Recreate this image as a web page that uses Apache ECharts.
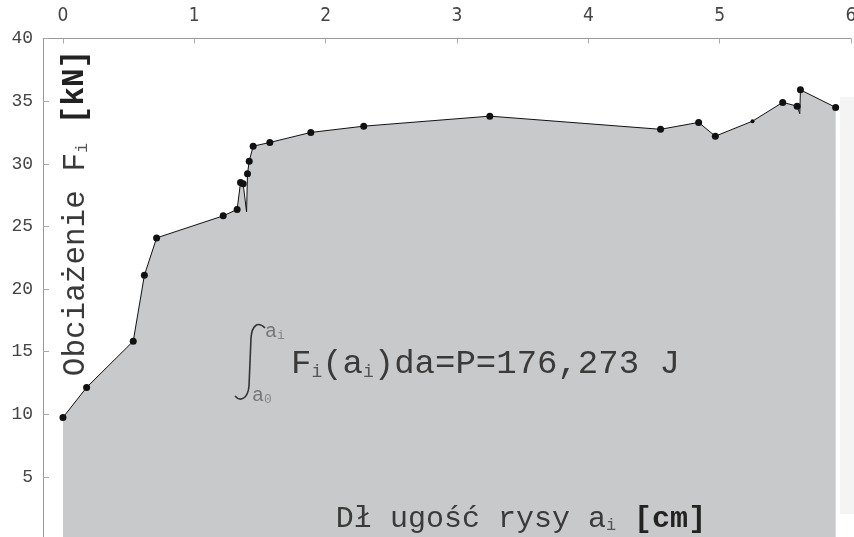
<!DOCTYPE html>
<html>
<head>
<meta charset="utf-8">
<script src="https://cdn.jsdelivr.net/npm/echarts@6/dist/echarts.min.js"></script>
<style>html,body{margin:0;padding:0;background:#fff}#c{width:854px;height:537px}</style>
</head>
<body>
<div id="c"></div>
<script>
// crack length a_i [cm]
const crackLength = [0, 0.18, 0.535, 0.62, 0.713, 1.22, 1.326, 1.352, 1.372, 1.398, 1.405, 1.418, 1.448, 1.575, 1.887, 2.29, 3.25, 4.55, 4.84, 4.967, 5.25, 5.48, 5.59, 5.61, 5.615, 5.883];
// load F_i [kN]
const loadValues = [9.74, 12.14, 15.83, 21.1, 24.08, 25.84, 26.35, 28.5, 28.4, 26.15, 29.2, 30.2, 31.4, 31.7, 32.5, 33.0, 33.8, 32.75, 33.3, 32.2, 33.4, 34.9, 34.6, 34.0, 35.9, 34.5];
// 1 = measured point drawn with a dot, 0 = plain vertex
const dotFlags = [1,1,1,1,1,1,1,1,1,0,1,1,1,1,1,1,1,1,1,1,1,1,1,0,1,1];
const xTickLabels = [0, 1, 2, 3, 4, 5, 6];
const yTickStep = 5;

const chart = echarts.init(document.getElementById('c'), null, {renderer: 'canvas'});
const data = crackLength.map((x, i) => [x, loadValues[i]]);
const mono = "'Liberation Mono', 'Courier New', monospace";

chart.setOption({
  backgroundColor: '#fff',
  animation: false,
  grid: {left: 43, top: 38.5, width: 808, height: 501, containLabel: false, outerBoundsMode: 'none'},
  xAxis: {
    type: 'value', position: 'top', min: -0.152, max: 6,
    axisLine: {show: true, onZero: false, lineStyle: {color: '#999', width: 1}},
    axisTick: {show: true, inside: true, length: 5, customValues: xTickLabels, lineStyle: {color: '#aaa'}},
    axisLabel: {customValues: xTickLabels, margin: 13, color: '#444', fontSize: 19,
      fontFamily: "'Liberation Sans Narrow', 'DejaVu Sans Condensed', sans-serif"},
    splitLine: {show: false}
  },
  yAxis: {
    type: 'value', min: 0, max: 40, interval: yTickStep,
    axisLine: {show: true, onZero: false, lineStyle: {color: '#999', width: 1}},
    axisTick: {show: true, inside: true, length: 6, lineStyle: {color: '#aaa'}},
    axisLabel: {showMinLabel: false, margin: 10, color: '#444', fontSize: 18, fontFamily: mono},
    splitLine: {show: false}
  },
  series: [{
    type: 'line',
    data: data,
    showSymbol: true,
    symbol: 'circle',
    symbolSize: (v, p) => dotFlags[p.dataIndex] ? (p.dataIndex === 20 ? 4 : 7) : 0,
    itemStyle: {color: '#111'},
    lineStyle: {color: '#111', width: 1},
    areaStyle: {color: '#c8c9cb', opacity: 1},
    z: 2
  }],
  graphic: [
    {type: 'rect', shape: {x: 840, y: 97, width: 14, height: 417}, style: {fill: '#f4f4f4'}, z: 1},
    {type: 'text', x: 73, y: 213, rotation: Math.PI / 2,
      style: {text: '{m|Obciażenie F}{s|i}{m| }{b|[kN]}', align: 'center', verticalAlign: 'middle',
        rich: {
          m: {fontFamily: mono, fontSize: 31, fill: '#3a3a3a', lineHeight: 36, verticalAlign: 'bottom'},
          s: {fontFamily: mono, fontSize: 17, fill: '#555', lineHeight: 36, verticalAlign: 'bottom'},
          b: {fontFamily: mono, fontSize: 31, fill: '#222', fontWeight: 'bold', lineHeight: 36, verticalAlign: 'bottom'}
        }}, z: 10},
    {type: 'text', x: 521, y: 517,
      style: {text: '{m|Dł ugość rysy a}{s|i}{m| }{b|[cm]}', align: 'center', verticalAlign: 'middle',
        rich: {
          m: {fontFamily: mono, fontSize: 30, fill: '#3a3a3a', lineHeight: 34, verticalAlign: 'bottom'},
          s: {fontFamily: mono, fontSize: 17, fill: '#555', lineHeight: 34, verticalAlign: 'bottom'},
          b: {fontFamily: mono, fontSize: 30, fill: '#222', fontWeight: 'bold', lineHeight: 34, verticalAlign: 'bottom'}
        }}, z: 10},
    {type: 'bezierCurve', shape: {x1: 265, y1: 328, cpx1: 258, cpy1: 321, cpx2: 252, cpy2: 325, x2: 251, y2: 338},
      style: {stroke: '#333', lineWidth: 1.6, fill: null}, z: 10},
    {type: 'line', shape: {x1: 251, y1: 338, x2: 249, y2: 386}, style: {stroke: '#333', lineWidth: 1.6}, z: 10},
    {type: 'bezierCurve', shape: {x1: 249, y1: 386, cpx1: 248, cpy1: 399, cpx2: 240, cpy2: 402, x2: 235, y2: 396},
      style: {stroke: '#333', lineWidth: 1.6, fill: null}, z: 10},
    {type: 'text', x: 265, y: 332, style: {text: '{a|a}{s|i}', verticalAlign: 'middle',
      rich: {a: {fontFamily: mono, fontSize: 20, fill: '#777'}, s: {fontFamily: mono, fontSize: 13, fill: '#888', verticalAlign: 'bottom'}}}, z: 10},
    {type: 'text', x: 252, y: 396, style: {text: '{a|a}{s|0}', verticalAlign: 'middle',
      rich: {a: {fontFamily: mono, fontSize: 20, fill: '#777'}, s: {fontFamily: mono, fontSize: 13, fill: '#888', verticalAlign: 'bottom'}}}, z: 10},
    {type: 'text', x: 291, y: 362,
      style: {text: '{m|F}{s|i}{m|(a}{s|i}{m|)da=P=176,273 J}', verticalAlign: 'middle',
        rich: {
          m: {fontFamily: mono, fontSize: 34, fill: '#3a3a3a', lineHeight: 38, verticalAlign: 'bottom'},
          s: {fontFamily: mono, fontSize: 18, fill: '#555', lineHeight: 38, verticalAlign: 'bottom'}
        }}, z: 10}
  ]
});
</script>
</body>
</html>
